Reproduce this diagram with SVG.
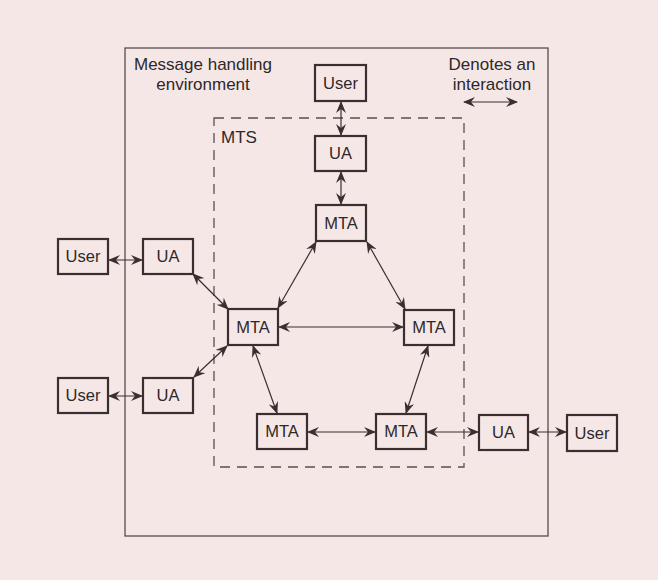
<svg xmlns="http://www.w3.org/2000/svg" width="658" height="580" viewBox="0 0 658 580">
<defs>
<style>
.bg{fill:#f6e7e7}
.box{fill:none;stroke:#3a2f2f;stroke-width:2.2}
.frame{fill:none;stroke:#4a3f3f;stroke-width:1.2}
.mts{fill:none;stroke:#5a4f4f;stroke-width:1.3;stroke-dasharray:10,7}
.lbl{font-family:"Liberation Sans",Arial,sans-serif;font-size:17px;fill:#2e2828}
.nl{font-family:"Liberation Sans",Arial,sans-serif;font-size:16.5px;fill:#2e2828;text-anchor:middle}
.c{stroke:#3a2f2f;stroke-width:1.2;fill:none;marker-start:url(#ah);marker-end:url(#ah)}
</style>
<marker id="ah" viewBox="0 0 12 10" refX="11" refY="5" markerWidth="12" markerHeight="10" markerUnits="userSpaceOnUse" orient="auto-start-reverse">
<path d="M0,0 L12,5 L0,10 L4,5 z" fill="#3a2f2f"/>
</marker>
</defs>
<rect class="bg" x="0" y="0" width="658" height="580"/>
<g id="environment">
<rect class="frame" x="125" y="48" width="423" height="488"/>
<text class="lbl" x="203" y="70" text-anchor="middle">Message handling</text>
<text class="lbl" x="203" y="90" text-anchor="middle">environment</text>
</g>
<g id="mts">
<rect class="mts" x="214" y="118" width="250" height="349"/>
<text class="lbl" x="221" y="143">MTS</text>
</g>
<g id="legend">
<text class="lbl" x="492" y="70" text-anchor="middle">Denotes an</text>
<text class="lbl" x="492" y="90" text-anchor="middle">interaction</text>
<line class="c" x1="464" y1="102" x2="517" y2="102"/>
</g>
<g id="connectors">
<line class="c" x1="341" y1="102" x2="341" y2="135"/>
<line class="c" x1="341" y1="172" x2="341" y2="204"/>
<line class="c" x1="316" y1="242" x2="278" y2="308"/>
<line class="c" x1="367" y1="242" x2="405" y2="309"/>
<line class="c" x1="279" y1="327" x2="403" y2="327"/>
<line class="c" x1="193" y1="274" x2="228" y2="309"/>
<line class="c" x1="227" y1="346" x2="194" y2="377"/>
<line class="c" x1="253" y1="346" x2="277" y2="413"/>
<line class="c" x1="428" y1="346" x2="406" y2="413"/>
<line class="c" x1="308" y1="432" x2="375" y2="432"/>
<line class="c" x1="427" y1="432" x2="478" y2="432"/>
<line class="c" x1="529" y1="432" x2="566" y2="432"/>
<line class="c" x1="109" y1="260" x2="142" y2="260"/>
<line class="c" x1="109" y1="396" x2="142" y2="396"/>
</g>
<g id="user-top"><rect class="box" x="315" y="65" width="51" height="36"/><text class="nl" x="340.5" y="89">User</text></g>
<g id="ua-top"><rect class="box" x="315" y="136" width="51" height="35"/><text class="nl" x="340.5" y="159">UA</text></g>
<g id="mta-top"><rect class="box" x="316" y="205" width="50" height="36"/><text class="nl" x="341" y="229">MTA</text></g>
<g id="user-left"><rect class="box" x="58" y="239" width="50" height="35"/><text class="nl" x="83" y="262">User</text></g>
<g id="ua-left"><rect class="box" x="143" y="239" width="50" height="35"/><text class="nl" x="168" y="262">UA</text></g>
<g id="mta-left"><rect class="box" x="228" y="309" width="50" height="36"/><text class="nl" x="253" y="333">MTA</text></g>
<g id="mta-right"><rect class="box" x="404" y="310" width="50" height="35"/><text class="nl" x="429" y="333">MTA</text></g>
<g id="user-lower-left"><rect class="box" x="58" y="378" width="50" height="35"/><text class="nl" x="83" y="401">User</text></g>
<g id="ua-lower-left"><rect class="box" x="143" y="378" width="50" height="35"/><text class="nl" x="168" y="401">UA</text></g>
<g id="mta-bottom-left"><rect class="box" x="257" y="414" width="50" height="35"/><text class="nl" x="282" y="437">MTA</text></g>
<g id="mta-bottom-mid"><rect class="box" x="376" y="414" width="50" height="35"/><text class="nl" x="401" y="437">MTA</text></g>
<g id="ua-bottom-right"><rect class="box" x="479" y="415" width="49" height="35"/><text class="nl" x="503.5" y="438">UA</text></g>
<g id="user-bottom-right"><rect class="box" x="567" y="415" width="50" height="36"/><text class="nl" x="592" y="439">User</text></g>
</svg>
